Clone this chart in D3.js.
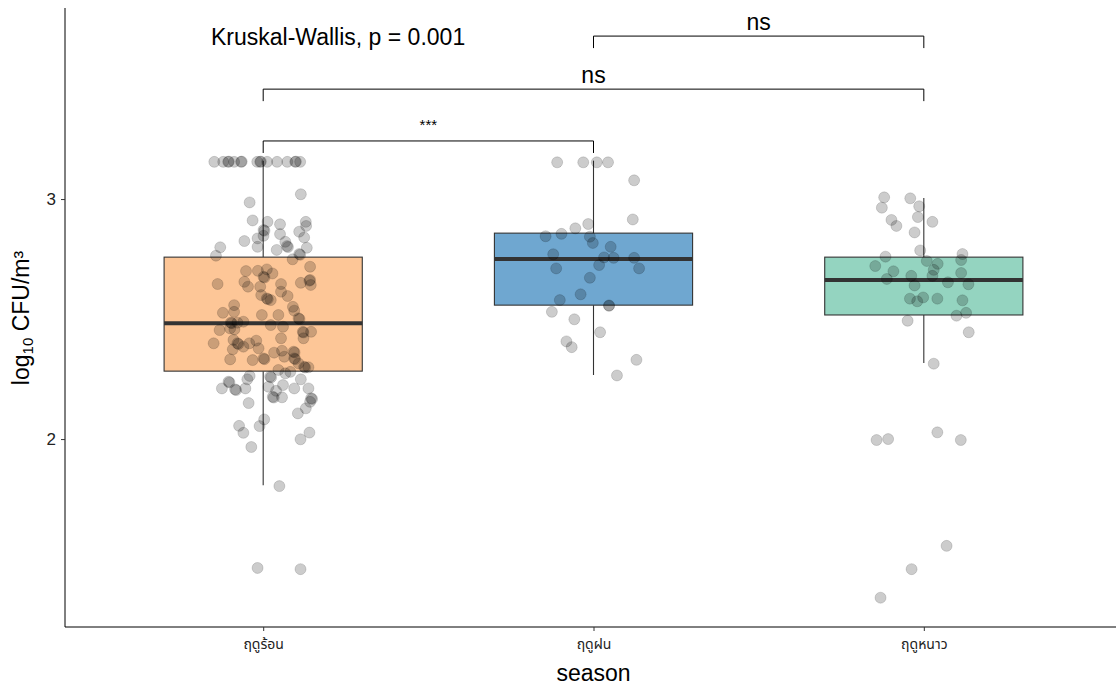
<!DOCTYPE html>
<html>
<head>
<meta charset="utf-8">
<script src="https://cdn.jsdelivr.net/npm/d3@7"></script>
<style>
  body { margin: 0; background: #fff; }
  svg { display: block; font-family: "Liberation Sans", Arial, sans-serif; }
</style>
</head>
<body>
<svg width="1116" height="686"></svg>
<script>
const seasons = ["ฤดูร้อน", "ฤดูฝน", "ฤดูหนาว"]
const boxFill = ["#fdc697", "#6fa7d0", "#94d4c0"]

// box stats
const whiskerLow = [1.808, 2.267, 2.317]
const q1 = [2.283, 2.558, 2.517]
const median = [2.483, 2.750, 2.663]
const q3 = [2.758, 2.858, 2.758]
const whiskerHigh = [3.160, 3.160, 3.004]

const yTicks = [2, 3]

// [jitter (category widths), log10 CFU/m3]
const summerPoints = [
    [-0.148, 3.155], [-0.121, 3.155], [-0.106, 3.155], [-0.104, 3.156], [-0.088, 3.155],
    [-0.067, 3.155], [-0.065, 3.156], [-0.018, 3.155], [-0.009, 3.155], [-0.007, 3.156],
    [0.012, 3.155], [0.042, 3.155], [0.073, 3.155], [0.097, 3.155], [0.099, 3.156], [0.112, 3.155],
    [0.114, 3.020], [-0.041, 2.986], [-0.032, 2.911], [0.013, 2.905], [0.051, 2.895],
    [0.129, 2.905], [0.130, 2.888], [0.001, 2.871], [0.004, 2.868], [0.109, 2.864],
    [0.001, 2.847], [0.051, 2.854], [-0.057, 2.825], [-0.017, 2.836], [0.124, 2.840],
    [0.067, 2.822], [0.072, 2.804], [0.075, 2.800], [-0.017, 2.801], [-0.130, 2.799],
    [0.132, 2.797], [0.041, 2.788], [-0.143, 2.764], [0.109, 2.771], [0.112, 2.768], [0.089, 2.749],
    [-0.052, 2.700], [-0.016, 2.701], [0.011, 2.707], [0.028, 2.690], [0.001, 2.676],
    [0.004, 2.673], [0.142, 2.718], [-0.138, 2.646], [-0.057, 2.655], [-0.046, 2.635],
    [-0.009, 2.635], [0.054, 2.646], [0.114, 2.651], [0.142, 2.663], [0.140, 2.660],
    [0.144, 2.642], [-0.006, 2.600], [0.011, 2.586], [0.014, 2.583], [0.054, 2.614],
    [0.074, 2.596], [0.023, 2.579], [-0.088, 2.558], [-0.122, 2.526], [-0.088, 2.530],
    [-0.004, 2.517], [0.046, 2.517], [0.090, 2.551], [0.094, 2.535], [0.107, 2.503],
    [0.110, 2.500], [-0.098, 2.485], [-0.095, 2.483], [-0.078, 2.485], [-0.060, 2.489],
    [0.023, 2.475], [0.060, 2.468], [-0.132, 2.454], [-0.100, 2.461], [-0.087, 2.457],
    [0.120, 2.447], [0.122, 2.444], [0.145, 2.447], [0.122, 2.420], [-0.150, 2.399],
    [-0.090, 2.413], [-0.078, 2.399], [-0.075, 2.396], [-0.060, 2.385], [-0.042, 2.399],
    [-0.021, 2.410], [-0.014, 2.378], [-0.092, 2.374], [-0.100, 2.332], [-0.032, 2.329],
    [0.001, 2.336], [0.004, 2.333], [0.033, 2.360], [0.057, 2.368], [0.064, 2.343],
    [0.092, 2.364], [0.095, 2.361], [0.094, 2.336], [0.097, 2.333], [0.107, 2.315],
    [0.124, 2.301], [0.127, 2.298], [0.137, 2.299], [0.054, 2.420],
    [-0.041, 2.263], [-0.048, 2.249], [0.046, 2.288], [0.021, 2.260], [0.024, 2.257],
    [0.067, 2.274], [0.114, 2.249], [0.082, 2.280], [-0.105, 2.239], [-0.102, 2.236],
    [-0.125, 2.211], [-0.085, 2.207], [-0.082, 2.204], [-0.054, 2.211], [0.016, 2.218],
    [0.060, 2.225], [0.094, 2.211], [0.039, 2.201], [0.029, 2.176], [0.032, 2.173],
    [0.057, 2.174], [0.137, 2.211], [0.145, 2.170], [0.148, 2.167], [0.129, 2.128],
    [0.142, 2.155], [-0.044, 2.150], [0.105, 2.107], [0.003, 2.082], [-0.011, 2.054],
    [-0.073, 2.055], [-0.060, 2.026], [0.140, 2.027], [0.113, 1.999], [-0.036, 1.967],
    [0.049, 1.804], [-0.017, 1.463], [0.113, 1.458]
]

const rainyPoints = [
    [-0.110, 3.153], [-0.031, 3.153], [0.010, 3.153], [0.044, 3.153], [0.123, 3.078],
    [0.119, 2.915], [-0.016, 2.896], [-0.055, 2.878], [-0.097, 2.855], [-0.145, 2.845],
    [-0.011, 2.843], [-0.002, 2.817], [0.052, 2.801], [-0.122, 2.770], [0.032, 2.757],
    [0.061, 2.755], [0.123, 2.755], [0.017, 2.725], [-0.113, 2.711], [0.138, 2.711],
    [-0.011, 2.672], [-0.039, 2.603], [-0.102, 2.579], [0.047, 2.557], [0.047, 2.555],
    [-0.126, 2.530], [-0.058, 2.499], [0.020, 2.445], [-0.082, 2.407], [-0.066, 2.383],
    [0.130, 2.330], [0.071, 2.265]
]

const winterPoints = [
    [-0.120, 3.007], [-0.041, 3.003], [-0.127, 2.964], [-0.014, 2.970], [-0.018, 2.925],
    [-0.098, 2.913], [-0.083, 2.888], [0.026, 2.905], [-0.028, 2.861], [-0.011, 2.786],
    [0.117, 2.771], [-0.116, 2.760], [0.113, 2.746], [0.009, 2.742], [0.042, 2.730],
    [-0.147, 2.721], [0.030, 2.705], [-0.092, 2.699], [0.113, 2.692], [-0.038, 2.680],
    [0.026, 2.680], [-0.112, 2.667], [0.073, 2.653], [0.135, 2.645], [-0.028, 2.640],
    [-0.002, 2.590], [-0.042, 2.585], [-0.020, 2.574], [0.041, 2.585], [0.117, 2.578],
    [0.099, 2.514], [0.128, 2.526], [-0.049, 2.493], [0.136, 2.445], [0.030, 2.314],
    [0.041, 2.028], [-0.143, 1.996], [-0.108, 2.000], [0.112, 1.996], [0.069, 1.555],
    [-0.037, 1.458], [-0.131, 1.339]
]

const groupPoints = [summerPoints, rainyPoints, winterPoints]

// pairwise comparisons: [from, to, bracket level, tick end, label]
const comparisons = [
    [0, 1, 3.242, 3.192, "***"],
    [0, 2, 3.458, 3.408, "ns"],
    [1, 2, 3.679, 3.629, "ns"]
]
const globalTest = "Kruskal-Wallis, p = 0.001"

const svg = d3.select("svg")
const panelL = 65, panelR = 1122, panelT = 8, panelB = 627

const x = d3.scalePoint().domain(seasons).range([panelL, panelR]).padding(0.6)
const y = d3.scaleLinear().domain([1.217, 3.796]).range([panelB, panelT])
const step = x.step()
const boxW = step * 0.6

// boxes
const boxes = svg.append("g")
seasons.forEach(function(s, i) {
    const cx = x(s)
    boxes.append("line")
        .attr("x1", cx).attr("x2", cx)
        .attr("y1", y(q3[i])).attr("y2", y(whiskerHigh[i]))
        .attr("stroke", "#333").attr("stroke-width", 1.1)
    boxes.append("line")
        .attr("x1", cx).attr("x2", cx)
        .attr("y1", y(q1[i])).attr("y2", y(whiskerLow[i]))
        .attr("stroke", "#333").attr("stroke-width", 1.1)
    boxes.append("rect")
        .attr("x", cx - boxW / 2).attr("width", boxW)
        .attr("y", y(q3[i])).attr("height", y(q1[i]) - y(q3[i]))
        .attr("fill", boxFill[i])
        .attr("stroke", "#333").attr("stroke-width", 1.1)
    boxes.append("line")
        .attr("x1", cx - boxW / 2).attr("x2", cx + boxW / 2)
        .attr("y1", y(median[i])).attr("y2", y(median[i]))
        .attr("stroke", "#333").attr("stroke-width", 4)
})

// jittered points
const pts = svg.append("g")
seasons.forEach(function(s, i) {
    pts.selectAll(null)
        .data(groupPoints[i])
        .join("circle")
        .attr("cx", d => x(s) + d[0] * step)
        .attr("cy", d => y(d[1]))
        .attr("r", 5.5)
        .attr("fill", "#000").attr("fill-opacity", 0.2)
        .attr("stroke", "#000").attr("stroke-opacity", 0.14)
})

// axes
const yAxis = svg.append("g")
    .attr("transform", "translate(" + panelL + ",0)")
    .call(d3.axisLeft(y).tickValues(yTicks).tickFormat(d3.format("d")).tickSize(4).tickPadding(5))
yAxis.select(".domain").attr("d", "M0," + panelT + "V" + panelB).attr("stroke", "#000")
yAxis.selectAll(".tick line").attr("stroke", "#333")
yAxis.selectAll(".tick text").attr("font-size", 17).attr("fill", "#222")
    .attr("font-family", "Liberation Sans, Arial, sans-serif")

const xAxis = svg.append("g")
    .attr("transform", "translate(0," + panelB + ")")
    .call(d3.axisBottom(x).tickSize(4).tickPadding(8))
xAxis.select(".domain").attr("d", "M" + panelL + ",0H" + panelR).attr("stroke", "#000")
xAxis.selectAll(".tick line").attr("stroke", "#333")
xAxis.selectAll(".tick text").attr("font-size", 14).attr("fill", "#222")
    .attr("font-family", "'Noto Sans Thai', 'Noto Sans', 'DejaVu Sans', sans-serif")

// axis titles
svg.append("text")
    .attr("x", x(seasons[1])).attr("y", 681)
    .attr("text-anchor", "middle").attr("font-size", 23)
    .text("season")

const yt = svg.append("text")
    .attr("transform", "translate(29,318) rotate(-90)")
    .attr("text-anchor", "middle").attr("font-size", 23)
yt.append("tspan").text("log")
yt.append("tspan").attr("font-size", 15).attr("dy", 4).text("10")
yt.append("tspan").attr("dy", -4).text(" CFU/m³")

// brackets
const br = svg.append("g")
comparisons.forEach(function(c) {
    const x1 = x(seasons[c[0]]), x2 = x(seasons[c[1]])
    br.append("path")
        .attr("d", "M" + x1 + "," + y(c[3]) + "V" + y(c[2]) + "H" + x2 + "V" + y(c[3]))
        .attr("fill", "none").attr("stroke", "#000").attr("stroke-width", 1)
    br.append("text")
        .attr("x", (x1 + x2) / 2)
        .attr("y", y(c[2]) - (c[4] === "ns" ? 6 : 11))
        .attr("text-anchor", "middle")
        .attr("font-size", c[4] === "ns" ? 23 : 15)
        .text(c[4])
})

svg.append("text")
    .attr("x", 211).attr("y", 45)
    .attr("font-size", 23)
    .text(globalTest)
</script>
</body>
</html>
